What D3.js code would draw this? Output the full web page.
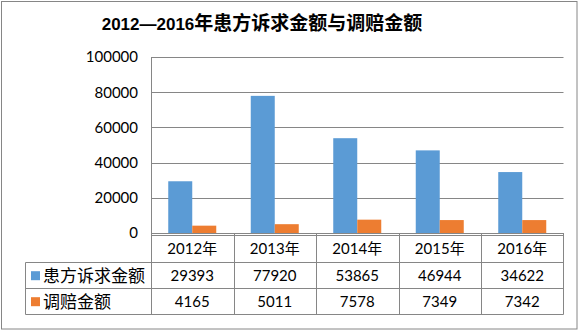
<!DOCTYPE html>
<html><head><meta charset="utf-8">
<script src="https://cdn.jsdelivr.net/npm/d3@7"></script>
<style>body{margin:0;background:#fff}svg{display:block}</style>
</head><body>
<svg id="c" width="579" height="331"></svg>
<script>
const years = ["2012年","2013年","2014年","2015年","2016年"];
const seriesNames = ["患方诉求金额","调赔金额"];
const claimValues = [29393,77920,53865,46944,34622];
const compValues = [4165,5011,7578,7349,7342];
const yTicks = [0,20000,40000,60000,80000,100000];
const colors = ["#5B9BD5","#ED7D31"];
const titleLatin = "2012—2016";
const titleCJK = "年患方诉求金额与调赔金额";

const svg = d3.select("#c");
const grid = "#868686";
const numFont = "Lato, 'Liberation Sans', 'Noto Sans CJK SC', sans-serif";

svg.append("rect").attr("x",1.5).attr("y",1.5).attr("width",575.5).attr("height",327.5)
  .attr("fill","#fff").attr("stroke",grid).attr("stroke-width",1);

const title = svg.append("text").attr("x",262).attr("y",30).attr("text-anchor","middle")
  .attr("font-weight","bold").attr("fill","#000");
title.append("tspan").attr("font-family","'Liberation Sans', sans-serif").attr("font-size",17).text(titleLatin);
title.append("tspan").attr("font-family","'Noto Sans CJK SC', sans-serif").attr("font-size",19).text(titleCJK);

const x = d3.scaleBand().domain(years).range([151,563.5]).paddingInner(0).paddingOuter(0);
const x1 = d3.scaleBand().domain(seriesNames).range([0,x.bandwidth()]).paddingInner(0).paddingOuter(0.71875);
const y = d3.scaleLinear().domain([0,100000]).range([233,57]);

// gridlines
svg.append("g").selectAll("line").data(yTicks.filter(d=>d>0)).join("line")
  .attr("x1",151).attr("x2",563.5).attr("y1",d=>Math.round(y(d))+0.5).attr("y2",d=>Math.round(y(d))+0.5)
  .attr("stroke",grid).attr("stroke-width",1);

// y axis via d3
const yAxis = svg.append("g").attr("transform","translate(151,0)")
  .call(d3.axisLeft(y).tickValues(yTicks).tickSize(0).tickPadding(13).tickFormat(d3.format("d")));
yAxis.select(".domain").attr("stroke",grid);
yAxis.selectAll("text").attr("font-family",numFont).attr("font-size",15).attr("fill","#000");

const series = [claimValues, compValues];
const g = svg.append("g");
series.forEach((vals,si)=>{
  g.selectAll(".s"+si).data(vals).join("rect")
    .attr("x",(d,i)=>x(years[i])+x1(seriesNames[si]))
    .attr("width",x1.bandwidth())
    .attr("y",d=>y(d)).attr("height",d=>y(0)-y(d))
    .attr("fill",colors[si]);
});

// baseline
svg.append("line").attr("x1",151).attr("x2",563.5).attr("y1",233.5).attr("y2",233.5).attr("stroke",grid);

// table
const rowTops = [236, 262.5, 288.5, 314.5];
const tl = svg.append("g").attr("stroke",grid).attr("stroke-width",1);
tl.append("line").attr("x1",151).attr("x2",563.5).attr("y1",235.5).attr("y2",235.5);
[262.5,288.5,314.5].forEach(yy=>tl.append("line").attr("x1",25.5).attr("x2",563.5).attr("y1",yy).attr("y2",yy));
tl.append("line").attr("x1",25.5).attr("x2",25.5).attr("y1",262.5).attr("y2",314.5);
years.forEach(yr=>tl.append("line").attr("x1",Math.round(x(yr))+0.5).attr("x2",Math.round(x(yr))+0.5).attr("y1",233).attr("y2",314.5));
tl.append("line").attr("x1",563.5).attr("x2",563.5).attr("y1",233).attr("y2",314.5);

const rowCenters = [249, 275.7, 301.7];
svg.append("g").selectAll("text").data(years).join("text")
  .attr("x",d=>x(d)+x.bandwidth()/2).attr("y",rowCenters[0]).attr("dy","0.35em")
  .attr("text-anchor","middle").attr("font-family",numFont).attr("font-size",15).attr("fill","#000").text(d=>d);

series.forEach((vals,si)=>{
  svg.append("g").selectAll("text").data(vals).join("text")
    .attr("x",(d,i)=>x(years[i])+x.bandwidth()/2).attr("y",rowCenters[si+1]).attr("dy","0.35em")
    .attr("text-anchor","middle").attr("font-family",numFont).attr("font-size",15).attr("fill","#000").text(d=>d);
  svg.append("rect").attr("x",31).attr("y",rowCenters[si+1]-4.5).attr("width",9).attr("height",9).attr("fill",colors[si]);
  svg.append("text").attr("x",43).attr("y",rowCenters[si+1]).attr("dy","0.35em")
    .attr("font-family","'Noto Sans CJK SC', sans-serif").attr("font-size",17).attr("fill","#000").text(seriesNames[si]);
});
</script>
</body></html>
